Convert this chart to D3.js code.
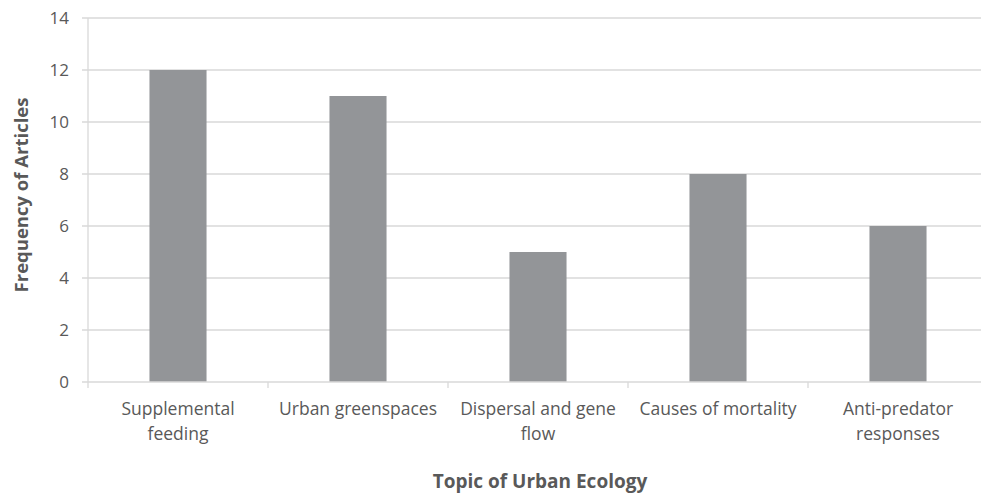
<!DOCTYPE html>
<html><head><meta charset="utf-8">
<script src="https://cdn.jsdelivr.net/npm/d3@7"></script>
<style>body{margin:0;background:#fff}svg{display:block}text{font-family:"Open Sans",sans-serif}</style>
</head><body><svg width="981" height="494"></svg>
<script>
const categories = [["Supplemental","feeding"],["Urban greenspaces"],["Dispersal and gene","flow"],["Causes of mortality"],["Anti-predator","responses"]];
const values = [12, 11, 5, 8, 6];
const yTicks = [0, 2, 4, 6, 8, 10, 12, 14];

const svg = d3.select("svg");
const mLeft = 88, mRight = 988, mTop = 18, mBottom = 382;
const x = d3.scaleBand().domain(d3.range(categories.length)).range([mLeft, mRight]).paddingInner(0.683).paddingOuter(0.3415);
const y = d3.scaleLinear().domain([0, 14]).range([mBottom, mTop]);
const textColor = "#595959";

// gridlines
svg.append("g").selectAll("line").data(yTicks.filter(d => d > 0)).join("line")
  .attr("x1", mLeft - 6).attr("x2", 981).attr("y1", d => y(d)).attr("y2", d => y(d))
  .attr("stroke", "#d9d9d9").attr("stroke-width", 1.3);

// y axis line
svg.append("line").attr("x1", mLeft).attr("x2", mLeft).attr("y1", mTop).attr("y2", mBottom).attr("stroke", "#d9d9d9").attr("stroke-width", 1.3);

// y labels
svg.append("g").selectAll("text").data(yTicks).join("text")
  .attr("x", 69).attr("y", d => y(d)).attr("dy", "0.36em").attr("text-anchor", "end")
  .attr("fill", textColor).attr("font-size", 17).text(d => d);

// bars
svg.append("g").selectAll("rect").data(values).join("rect")
  .attr("x", (d, i) => x(i)).attr("width", x.bandwidth())
  .attr("y", d => y(d)).attr("height", d => mBottom - y(d)).attr("fill", "#939598");

// x axis
svg.append("line").attr("x1", mLeft - 6).attr("x2", 981).attr("y1", mBottom).attr("y2", mBottom).attr("stroke", "#d9d9d9").attr("stroke-width", 1.3);
const step = x.step();
svg.append("g").selectAll("line").data(d3.range(categories.length + 1)).join("line")
  .attr("x1", i => mLeft + i * step).attr("x2", i => mLeft + i * step)
  .attr("y1", mBottom).attr("y2", mBottom + 6).attr("stroke", "#d9d9d9").attr("stroke-width", 1.3);

// category labels
const lab = svg.append("g").selectAll("text").data(categories).join("text")
  .attr("text-anchor", "middle").attr("fill", textColor).attr("font-size", 17.5)
  .attr("transform", (d, i) => `translate(${x(i) + x.bandwidth() / 2},0)`);
lab.selectAll("tspan").data(d => d).join("tspan").attr("x", 0).attr("y", (d, j) => 415 + j * 25).text(d => d);

// axis titles
svg.append("text").attr("transform", "translate(28,195) rotate(-90)").attr("text-anchor", "middle")
  .attr("fill", textColor).attr("font-size", 18.5).attr("font-weight", "bold").text("Frequency of Articles");
svg.append("text").attr("x", 540).attr("y", 488).attr("text-anchor", "middle")
  .attr("fill", textColor).attr("font-size", 19).attr("font-weight", "bold").text("Topic of Urban Ecology");
</script></body></html>
